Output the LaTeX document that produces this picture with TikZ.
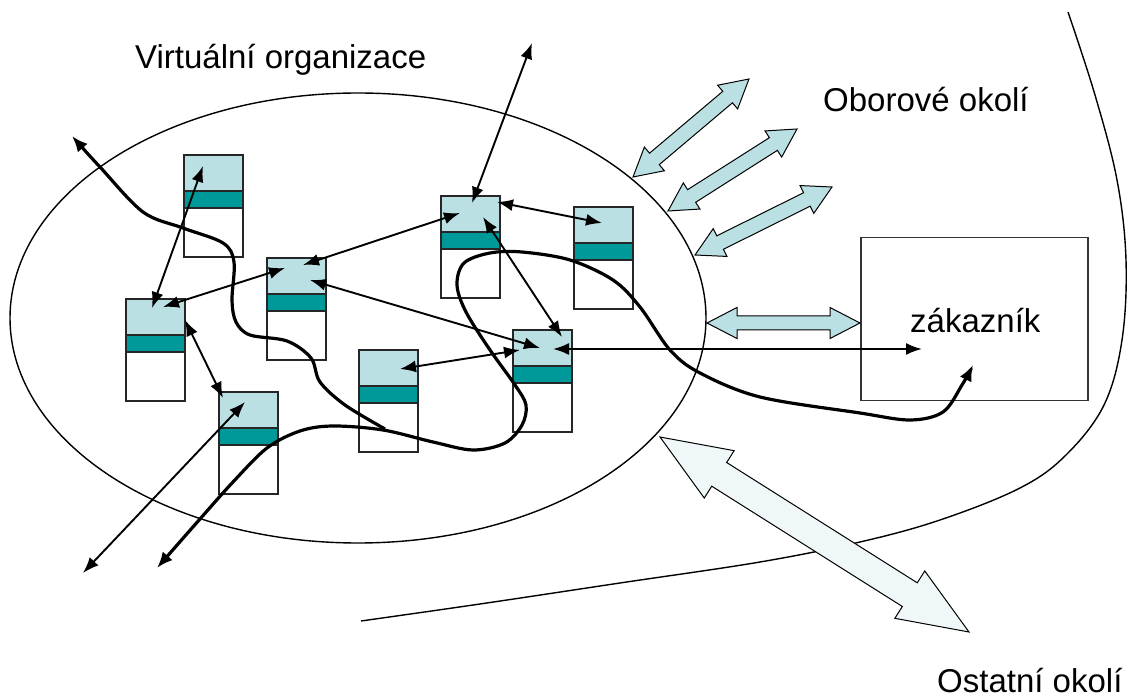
\documentclass[tikz,border=0pt]{standalone}
\usepackage{fontspec}
\setmainfont{Liberation Sans}
\usetikzlibrary{arrows.meta,calc}
\definecolor{cellc}{RGB}{187,224,227}
\definecolor{bandc}{RGB}{0,153,153}
\definecolor{palec}{RGB}{239,247,249}
\newcommand\dblblock[6]{%
\draw[#1] (#2)
 -- ($(#2)!#4!(#3)!#5!90:(#3)$)
 -- ($(#2)!#4!(#3)!#6!90:(#3)$)
 -- ($(#3)!#4!(#2)!#6!-90:(#2)$)
 -- ($(#3)!#4!(#2)!#5!-90:(#2)$)
 -- (#3)
 -- ($(#3)!#4!(#2)!#5!90:(#2)$)
 -- ($(#3)!#4!(#2)!#6!90:(#2)$)
 -- ($(#2)!#4!(#3)!#6!-90:(#3)$)
 -- ($(#2)!#4!(#3)!#5!-90:(#3)$)
 -- cycle;}
\tikzset{
  agent/.style={anchor=north west, minimum width=59pt, minimum height=102pt, inner sep=0pt,
    draw=black!85, line width=1.8pt, fill=white,
    path picture={
      \fill[cellc] (path picture bounding box.north west) rectangle ([yshift=-36pt]path picture bounding box.north east);
      \fill[bandc] ([yshift=-36pt]path picture bounding box.north west) rectangle ([yshift=-53pt]path picture bounding box.north east);
      \draw[black!85, line width=1.8pt] ([yshift=-36pt]path picture bounding box.north west) -- ([yshift=-36pt]path picture bounding box.north east);
      \draw[black!85, line width=1.8pt] ([yshift=-53pt]path picture bounding box.north west) -- ([yshift=-53pt]path picture bounding box.north east);
    }},
  link/.style={line width=1.9pt, {Latex[length=16pt,width=12pt]}-{Latex[length=16pt,width=12pt]}},
  flow/.style={line width=3.2pt},
  blk/.style={draw=black, line width=1pt, fill=cellc, line join=miter},
  bigblk/.style={draw=black, line width=1pt, fill=palec, line join=miter},
  lbl/.style={anchor=base west, inner sep=0pt, font=\fontsize{33}{38}\selectfont},
}
\begin{document}
\begin{tikzpicture}[x=1pt,y=-1pt]
\useasboundingbox (0,0) rectangle (1128,700);
% environment boundary
\draw[line width=1.4pt] plot[smooth, tension=0.6] coordinates {(1068,12) (1095,95) (1117,180) (1126,260) (1122,340) (1104,405) (1066,455) (1020,488) (940,520) (860,542) (760,562) (620,583) (480,604) (361,621)};
% organisation
\draw[line width=1.4pt] (358,318) ellipse [x radius=348, y radius=225];
% agents
\node[agent] (b1) at (183,154) {};
\node[agent] (b2) at (125,298) {};
\node[agent] (b3) at (266,257) {};
\node[agent] (b4) at (218,391) {};
\node[agent] (b5) at (440,195) {};
\node[agent] (b6) at (573,206) {};
\node[agent] (b7) at (512,329) {};
\node[agent] (b8) at (358,349) {};
% customer
\node[draw=black!80, line width=1.5pt, minimum width=227pt, minimum height=163pt, anchor=north west, inner sep=0pt] (zak) at (860,237) {};
\node[lbl] (zakt) at (910,333) {zákazník};
% labels
\node[lbl] (vo) at (135,69) {Virtuální organizace};
\node[lbl] (oo) at (823,112) {Oborové okolí};
\node[lbl] (ost) at (937,692) {Ostatní okolí};
% block arrows
\coordinate (a1s) at (633,177); \coordinate (a1e) at (749,79);
\coordinate (a2s) at (668,211); \coordinate (a2e) at (797,129);
\coordinate (a3s) at (695,255); \coordinate (a3e) at (832,187);
\coordinate (a4s) at (707,323); \coordinate (a4e) at (zak.west |- 0,323);
\coordinate (a5s) at (660,437); \coordinate (a5e) at (969,632);
\dblblock{blk}{a1s}{a1e}{28pt}{15.5pt}{7.5pt}
\dblblock{blk}{a2s}{a2e}{28pt}{15.5pt}{7.5pt}
\dblblock{blk}{a3s}{a3e}{28pt}{15.5pt}{7.5pt}
\dblblock{blk}{a4s}{a4e}{30pt}{15.5pt}{7pt}
\dblblock{bigblk}{a5s}{a5e}{70pt}{28pt}{14pt}
% free ends
\coordinate (o1) at (83,573);
\coordinate (o2) at (532,43);
% thin links
\draw[link] ($(b1.north west)+(20,12)$) -- ($(b2.north west)+(27,10)$);
\draw[link] ($(b2.north west)+(38,9)$) -- ($(b3.north west)+(19,11)$);
\draw[link] ($(b2.north west)+(60,22)$) -- ($(b4.north west)+(5,7)$);
\draw[link] ($(b4.north west)+(27,11)$) -- (o1);
\draw[link] ($(b3.north west)+(37,8)$) -- ($(b5.north west)+(20,18)$);
\draw[link] ($(b3.north west)+(44,23)$) -- ($(b7.north west)+(28,19)$);
\draw[link] ($(b5.north west)+(32,8)$) -- (o2);
\draw[link] ($(b5.north west)+(57,7)$) -- ($(b6.north west)+(29,17)$);
\draw[link] ($(b5.north west)+(43,22)$) -- ($(b7.north west)+(50,8)$);
\draw[link] ($(b8.north west)+(42,20)$) -- ($(b7.north west)+(8,21)$);
\draw[link] ($(b7.north west)+(41,20)$) -- ($(zak.north west)+(62,112)$);
% process flows
\draw[flow, {Latex[length=16pt,width=13pt]}-] plot[smooth, tension=0.55] coordinates {(72,136) (100,167) (143,212) (183,228) (223,243) (234,262) (232,300) (236,322) (250,335) (287,341) (311,358) (320,382) (345,405) (385,429)};
\draw[flow, {Latex[length=16pt,width=13pt]}-{Latex[length=16pt,width=13pt]}] plot[smooth, tension=0.55] coordinates {(157,568) (200,519) (233,482) (267,448) (300,431) (333,426) (383,430) (433,442) (473,450) (505,443) (522,425) (526,405) (515,385) (490,350) (466,312) (457,285) (464,263) (490,253) (522,252) (570,260) (613,280) (640,307) (670,350) (700,373) (760,397) (860,413) (910,420) (943,412) (962,385) (973,365)};
\end{tikzpicture}
\end{document}
